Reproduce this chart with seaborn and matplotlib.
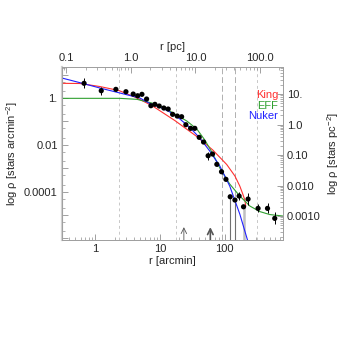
import pandas as pd
import seaborn as sns
import matplotlib.pyplot as plt
from matplotlib.ticker import LogLocator, FuncFormatter, NullFormatter

# observed radial density profile (r in arcmin, rho in stars arcmin^-2)
r_obs = [0.68, 1.25, 2.10, 3.0, 3.88, 4.54, 5.29, 6.24, 7.27, 8.38, 9.76, 11.5,
         13.4, 15.7, 18.5, 21.6, 25.1, 29.7, 34.5, 40.3, 47.0, 55.3, 64.7, 75.3,
         88.9, 104, 121, 143, 166, 194, 228, 325, 454, 587]
rho_obs = [4.25, 2.05, 2.35, 1.86, 1.48, 1.25, 1.44, 0.906, 0.469, 0.538, 0.455,
           0.374, 0.339, 0.201, 0.170, 0.159, 0.0723, 0.0507, 0.0507, 0.0209,
           0.0132, 0.00342, 0.00405, 0.00147, 7.08e-4, 3.36e-4, 6.05e-5, 4.38e-5,
           6.49e-5, 2.26e-5, 4.83e-5, 1.93e-5, 1.93e-5, 7.23e-6]
err_dex = [0.21, 0.17, 0.06, 0.05, 0.05, 0.05, 0.05, 0.03, 0.03, 0.03, 0.03, 0.03,
           0.03, 0.03, 0.03, 0.03, 0.03, 0.03, 0.03, 0.04, 0.04, 0.17, 0.08, 0.08,
           0.08, 0.08, 0.0, 0.0, 0.17, 0.0, 0.26, 0.17, 0.21, 0.26]
# points whose lower error reaches the bottom of the plot
open_low = [26, 27, 29]

# model fits
r_king = [0.31, 0.59, 1.19, 2.34, 4.12, 7.53, 17.0, 37.1, 65.3, 107, 143, 170, 189, 203, 210]
rho_king = [4.25, 4.17, 3.10, 2.09, 1.10, 0.478, 0.109, 0.0226, 0.0060, 1.44e-3,
            4.65e-4, 1.73e-4, 7.9e-5, 4.4e-5, 2.4e-5]
r_eff = [0.31, 2.42, 4.43, 7.53, 11.9, 17.0, 26.0, 37.1, 49.2, 63.1, 83.8, 119,
         170, 243, 345, 492, 780]
rho_eff = [0.97, 0.97, 0.88, 0.61, 0.374, 0.207, 0.104, 0.0473, 0.0160, 0.00492,
           1.02e-3, 2.11e-4, 6.5e-5, 2.43e-5, 1.41e-5, 1.05e-5, 9.1e-6]
r_nuker = [0.31, 0.59, 1.19, 2.42, 4.92, 7.02, 10.0, 14.3, 20.3, 29.0, 41.2, 58.6,
           83.8, 119, 170, 243]
rho_nuker = [7.16, 4.51, 2.68, 1.64, 1.0, 0.582, 0.412, 0.252, 0.127, 0.0549,
             0.0195, 5.43e-3, 1.24e-3, 1.73e-4, 1.10e-5, 3.9e-7]

vlines_short = [2.37, 17.6, 311]
vlines_long = [89.9, 143]
arrows = [23.4, 59.8]

sns.set_style('ticks')
plt.rcParams['font.family'] = ['Liberation Sans', 'DejaVu Sans']
plt.rcParams['mathtext.fontset'] = 'custom'
plt.rcParams['mathtext.rm'] = 'Liberation Sans'

fig = plt.figure(figsize=(3.44, 3.44), dpi=100)
ax = fig.add_axes([0.180, 0.302, 0.642, 0.503])
ax.set_xscale('log')
ax.set_yscale('log')
xlim = (0.31, 780)
ylim = (8.5e-7, 21)
ax.set_xlim(xlim)
ax.set_ylim(ylim)

for v in vlines_short:
    ax.axvline(v, color='#c8c8c8', lw=0.7, ls=(0, (3, 3)), zorder=1)
for v in vlines_long:
    ax.axvline(v, color='#b0b0b0', lw=0.7, ls=(0, (6, 3)), zorder=1)

models = pd.concat([
    pd.DataFrame({'r': r_king, 'rho': rho_king, 'model': 'King'}),
    pd.DataFrame({'r': r_eff, 'rho': rho_eff, 'model': 'EFF'}),
    pd.DataFrame({'r': r_nuker, 'rho': rho_nuker, 'model': 'Nuker'}),
])
sns.lineplot(data=models, x='r', y='rho', hue='model', estimator=None, sort=False,
             palette={'King': '#ff3030', 'EFF': '#30a030', 'Nuker': '#2020ff'},
             lw=0.8, legend=False, ax=ax, zorder=3)

# error bars
lo, hi = [], []
for i, (rho, e) in enumerate(zip(rho_obs, err_dex)):
    lo.append(0 if i in open_low else rho - rho / 10 ** e)
    hi.append(rho * 10 ** e - rho)
ax.errorbar(r_obs, rho_obs, yerr=[lo, hi], fmt='none', ecolor='black', elinewidth=0.7,
            capsize=0, zorder=4)
for i in open_low:
    light = i == 29
    ax.vlines(r_obs[i], ylim[0], rho_obs[i], color='#c0c0c0' if light else '#707070',
              lw=1.8 if light else 0.8, zorder=2)

obs = pd.DataFrame({'r': r_obs, 'rho': rho_obs})
sns.scatterplot(data=obs, x='r', y='rho', color='black', s=14, edgecolor='none',
                ax=ax, zorder=5)

for a, w in zip(arrows, [0.6, 1.2]):
    ax.annotate('', xy=(a, 0.075), xycoords=('data', 'axes fraction'),
                xytext=(a, 0.0), textcoords=('data', 'axes fraction'),
                arrowprops=dict(arrowstyle='->', color='#555555', lw=w,
                                shrinkA=0, shrinkB=0))

for name, col, y in [('King', '#ff3030', 0.84), ('EFF', '#30a030', 0.775),
                     ('Nuker', '#2020ff', 0.715)]:
    ax.text(0.98, y, name, color=col, fontsize=8, ha='right', va='center',
            transform=ax.transAxes)

fmt_left = {1.0: '1.', 1e-2: '0.01', 1e-4: '0.0001'}
ax.yaxis.set_major_locator(LogLocator(base=10, numticks=20))
ax.yaxis.set_major_formatter(FuncFormatter(lambda v, p: fmt_left.get(round(v, 8), '')))
ax.yaxis.set_minor_locator(LogLocator(base=10, subs=[2, 5], numticks=20))
ax.yaxis.set_minor_formatter(NullFormatter())
fmt_bot = {1.0: '1', 10.0: '10', 100.0: '100'}
ax.xaxis.set_major_formatter(FuncFormatter(lambda v, p: fmt_bot.get(round(v, 8), '')))
ax.xaxis.set_minor_formatter(NullFormatter())
ax.set_xlabel('r [arcmin]', fontsize=8, labelpad=1)
ax.set_ylabel('log ρ [stars arcmin$^{-2}$]', fontsize=8, labelpad=3)

# top axis: parsec
axt = ax.twiny()
axt.set_xscale('log')
axt.set_xlim(0.085, 227)
fmt_top = {0.1: '0.1', 1.0: '1.0', 10.0: '10.0', 100.0: '100.0'}
axt.xaxis.set_major_formatter(FuncFormatter(lambda v, p: fmt_top.get(round(v, 8), '')))
axt.xaxis.set_minor_formatter(NullFormatter())
axt.set_xlabel('r [pc]', fontsize=8, labelpad=2)

# right axis: stars pc^-2
axr = ax.twinx()
axr.set_yscale('log')
axr.set_ylim(1.63e-4, 76.7)
fmt_right = {10.0: '10.', 1.0: '1.0', 0.1: '0.10', 0.01: '0.010', 0.001: '0.0010'}
axr.yaxis.set_major_formatter(FuncFormatter(lambda v, p: fmt_right.get(round(v, 8), '')))
axr.yaxis.set_minor_formatter(NullFormatter())
axr.set_ylabel('log ρ [stars pc$^{-2}$]', fontsize=8, labelpad=3)

for a in (ax, axt, axr):
    a.tick_params(which='both', direction='in', labelsize=8, color='#909090', pad=3)
    a.tick_params(which='major', length=4, width=0.6)
    a.tick_params(which='minor', length=2, width=0.5)
    for s in a.spines.values():
        s.set_color('#a0a0a0')
        s.set_linewidth(0.7)
ax.spines['left'].set_color('#d0d0d0')
ax.spines['left'].set_linewidth(1.6)

fig.savefig('out.png', dpi=100)
